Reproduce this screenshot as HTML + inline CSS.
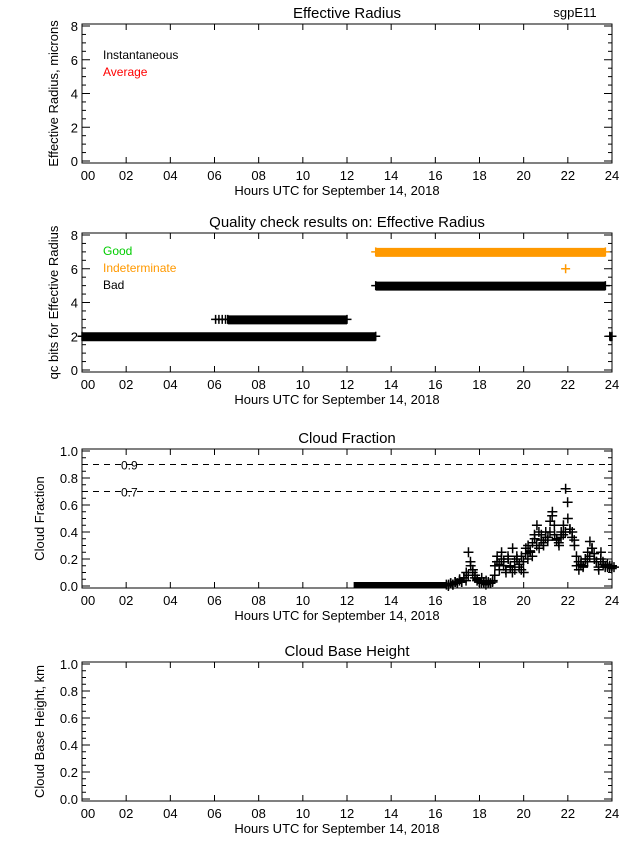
<!DOCTYPE html>
<html><head><meta charset="utf-8"><style>
body{margin:0;background:#fff;}
svg{display:block;font-family:"Liberation Sans",sans-serif;}
</style></head><body>
<svg id="c" width="640" height="850" xmlns="http://www.w3.org/2000/svg"></svg>
<script>
const xTicks=["00","02","04","06","08","10","12","14","16","18","20","22","24"];
const erTicks=["0","2","4","6","8"];
const qcTicks=["0","2","4","6","8"];
const cfTicks=["0.0","0.2","0.4","0.6","0.8","1.0"];
const cbTicks=["0.0","0.2","0.4","0.6","0.8","1.0"];
const qcRuns=[[0,13.3,2],[6.6,12,3],[13.3,23.7,5],[23.9,24,2]];
const qcSparse=[[6.05,3],[6.2,3],[6.35,3],[6.5,3]];
const qcOrangeRuns=[[13.3,23.7,7]];
const qcOrangePts=[[21.9,6]];
const cfZeroRun=[12.3,16.5];
const cfHours=[16.5,16.6,16.7,16.8,16.9,17.0,17.1,17.2,17.3,17.4,17.5,17.6,17.7,17.8,17.9,18.0,18.1,18.2,18.3,18.4,18.5,18.6,18.7,18.8,18.9,19.0,19.1,19.2,19.3,19.4,19.5,19.6,19.7,19.8,19.9,20.0,20.1,20.2,20.3,20.4,20.5,20.6,20.7,20.8,20.9,21.0,21.1,21.2,21.3,21.4,21.5,21.6,21.7,21.8,21.9,22.0,22.1,22.2,22.3,22.4,22.5,22.6,22.7,22.8,22.9,23.0,23.1,23.2,23.3,23.4,23.5,23.6,23.7,23.8,23.9,24.0];
const cfValues=[.01,.01,.02,.01,.03,.02,.05,.03,.06,.10,.25,.15,.12,.08,.05,.03,.06,.02,.04,.03,.02,.04,.15,.22,.12,.25,.18,.10,.20,.15,.28,.12,.20,.16,.22,.10,.28,.30,.25,.32,.35,.45,.28,.38,.30,.40,.36,.48,.55,.38,.35,.30,.40,.45,.72,.50,.42,.40,.30,.15,.12,.18,.15,.20,.25,.33,.28,.20,.18,.12,.25,.16,.15,.14,.15,.15];
const cfValues2=[.00,.02,.01,.03,.02,.04,.03,.06,.04,.08,.18,.10,.06,.04,.03,.02,.03,.01,.02,.02,.03,.08,.18,.16,.20,.15,.12,.22,.14,.10,.18,.22,.14,.12,.18,.24,.20,.26,.22,.38,.30,.40,.34,.32,.36,.34,.40,.52,.45,.34,.32,.36,.38,.40,.62,.42,.36,.34,.22,.18,.16,.14,.20,.18,.22,.28,.24,.18,.14,.20,.18,.14,.16,.14,.13,.14];

const S=document.getElementById('c');const NS="http://www.w3.org/2000/svg";
function mk(t,a,p){const e=document.createElementNS(NS,t);for(const k in a)e.setAttribute(k,a[k]);(p||S).appendChild(e);return e;}
const L=82,R=612;
function xs(h){return L+h/24*(R-L);}
function panel(name,top,bot,title,ylab,ticks,ymax,minorN){
  const g=mk('g',{});
  
  
  const ys=v=>bot-2-v/ymax*(bot-top-4);
  const f=mk('rect',{x:L,y:top,width:R-L,height:bot-top,fill:'none',stroke:'#000','stroke-width':1},g);
  
  
  const t=mk('text',{x:(L+R)/2,y:top-6,'text-anchor':'middle','font-size':15},g);t.textContent=title;
  
  
  xTicks.forEach((lb,i)=>{const x=xs(i*2);
    mk('line',{x1:x,x2:x,y1:bot,y2:bot-6,stroke:'#000'},g);mk('line',{x1:x,x2:x,y1:top,y2:top+6,stroke:'#000'},g);
    const tx=mk('text',{x:x+(i==0?6:0),y:bot+17,'text-anchor':'middle','font-size':13},g);tx.textContent=lb;
    
    });
  const xl=mk('text',{x:(L+R)/2-10,y:bot+32,'text-anchor':'middle','font-size':13},g);xl.textContent="Hours UTC for September 14, 2018";
  
  
  const n=ticks.length;
  for(let i=0;i<(n-1)*minorN+1;i++){const v=i/minorN*(ymax/(n-1));const y=ys(v);const len=i%minorN==0?8:4;
    mk('line',{x1:L,x2:L+len,y1:y,y2:y,stroke:'#000'},g);mk('line',{x1:R,x2:R-len,y1:y,y2:y,stroke:'#000'},g);}
  ticks.forEach((lb,i)=>{const v=i*ymax/(n-1);const ty=mk('text',{x:L-4,y:ys(v)+5,'text-anchor':'end','font-size':13},g);ty.textContent=lb;
    
    });
  const yl=mk('text',{transform:`translate(${ticks[0].length>1?44:58},${(top+bot)/2}) rotate(-90)`,'text-anchor':'middle','font-size':13},g);yl.textContent=ylab;
  
  
  return {g,ys};
}
function plus(g,x,y,c,s){mk('path',{d:`M${x-s} ${y}H${x+s}M${x} ${y-s}V${y+s}`,stroke:c,'stroke-width':1.5},g);}

const p1=panel('effective-radius-panel',24,163,'Effective Radius','Effective Radius, microns',erTicks,8,4);
let st=mk('text',{x:575,y:17,'text-anchor':'middle','font-size':13},p1.g);st.textContent='sgpE11';


let l1=mk('text',{x:103,y:59,'font-size':12},p1.g);l1.textContent='Instantaneous';


let l2=mk('text',{x:103,y:76,'font-size':12,fill:'#f00'},p1.g);l2.textContent='Average';



const p2=panel('qc-panel',233,372,'Quality check  results on: Effective Radius','qc bits for Effective Radius',qcTicks,8,4);
[['Good','#0c0',255],['Indeterminate','#f90',272],['Bad','#000',289]].forEach(d=>{const e=mk('text',{x:103,y:d[2],'font-size':12,fill:d[1]},p2.g);e.textContent=d[0];
  
  });
function runs(arr,c){arr.forEach(r=>{const y=p2.ys(r[2]);const b=mk('rect',{x:xs(r[0]),y:y-4,width:xs(r[1])-xs(r[0]),height:9,fill:c},p2.g);
  
  
  plus(p2.g,xs(r[0]),y,c,4.5);plus(p2.g,xs(r[1]),y,c,4.5);});}
runs(qcRuns,'#000');runs(qcOrangeRuns,'#f90');
qcSparse.forEach(p=>plus(p2.g,xs(p[0]),p2.ys(p[1]),'#000',4.5));
qcOrangePts.forEach(p=>plus(p2.g,xs(p[0]),p2.ys(p[1]),'#f90',4.5));

const p3=panel('cloud-fraction-panel',449,588,'Cloud Fraction','Cloud Fraction',cfTicks,1,4);
[0.9,0.7].forEach(v=>{const y=p3.ys(v);const d=mk('line',{x1:L,x2:R,y1:y,y2:y,stroke:'#000','stroke-dasharray':'6,5'},p3.g);
  
  
  const t=mk('text',{x:121,y:y+5,'font-size':12},p3.g);t.textContent=v;});
const zr=mk('rect',{x:xs(cfZeroRun[0]),y:p3.ys(0)-4,width:xs(cfZeroRun[1])-xs(cfZeroRun[0]),height:6,fill:'#000'},p3.g);


cfHours.forEach((h,i)=>{plus(p3.g,xs(h),p3.ys(cfValues[i]),'#000',5);plus(p3.g,xs(h)+2,p3.ys(cfValues2[i]),'#000',5);});

const p4=panel('cloud-base-height-panel',662,801,'Cloud Base Height','Cloud Base Height, km',cbTicks,1,4);
</script>
</body></html>
